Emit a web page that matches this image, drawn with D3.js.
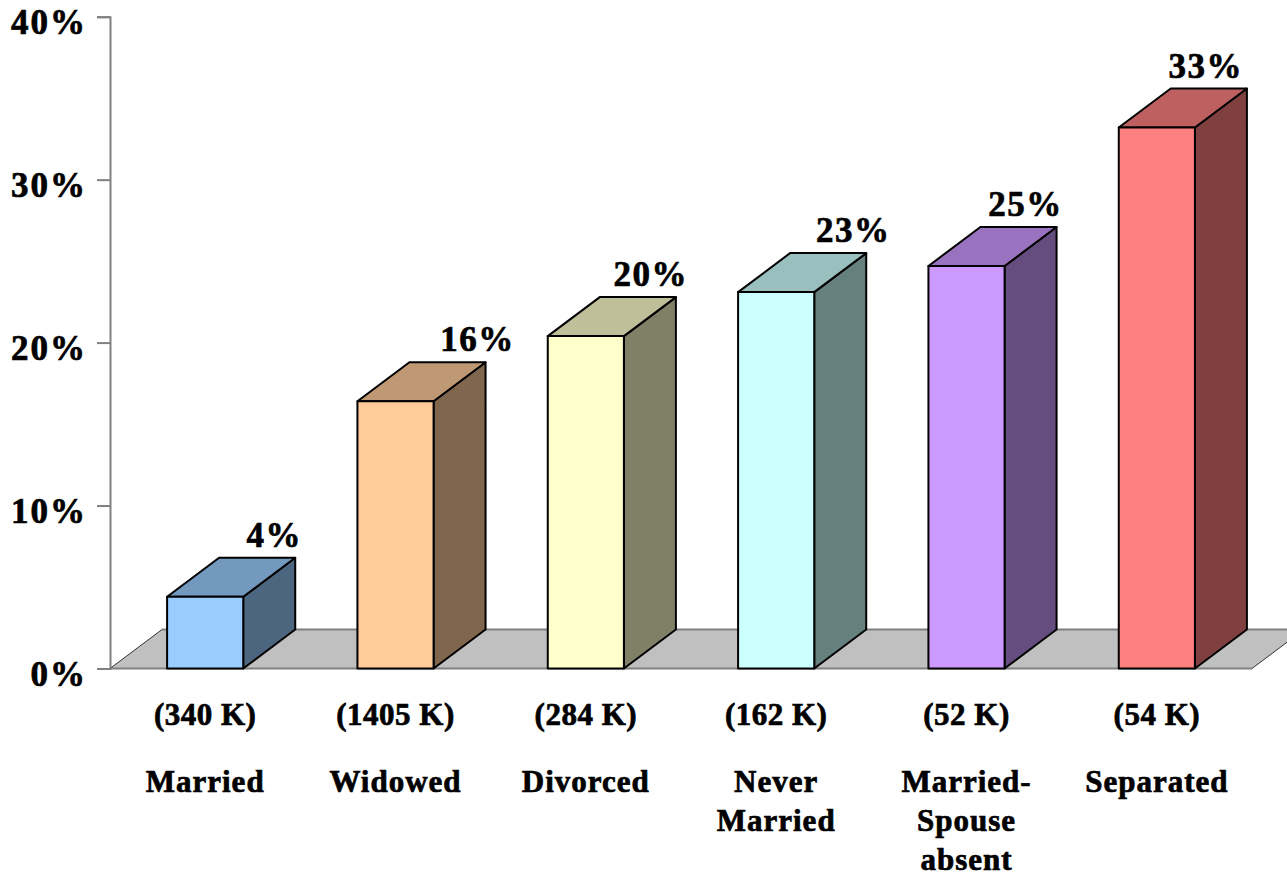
<!DOCTYPE html>
<html>
<head>
<meta charset="utf-8">
<script src="https://cdn.jsdelivr.net/npm/d3@7"></script>
<style>
  html, body { margin: 0; padding: 0; background: #fff; }
  svg text { font-family: "Liberation Serif", "Times New Roman", serif; font-weight: bold; fill: #000; stroke: #000; stroke-width: 0.7px; }
</style>
</head>
<body>
<svg id="chart" width="1287" height="880"></svg>
<script>
// Share of each marital-status group (percent), with group sizes
const categories = ["Married", "Widowed", "Divorced", "Never Married", "Married-Spouse absent", "Separated"];
const categoryLines = [["Married"], ["Widowed"], ["Divorced"], ["Never", "Married"], ["Married-", "Spouse", "absent"], ["Separated"]];
const groupSizes = ["(340 K)", "(1405 K)", "(284 K)", "(162 K)", "(52 K)", "(54 K)"];
const values = [4.4, 16.4, 20.4, 23.1, 24.7, 33.2];
const yTicks = [0, 10, 20, 30, 40];

// Front face colours; top and side faces are shaded from these
const frontColors = ["#99CCFF", "#FFCC99", "#FFFFCC", "#CCFFFF", "#CC99FF", "#FF8080"];

// ---- layout ----
const svg = d3.select("#chart");
const W = 1287;
const x0 = 110, x1 = 1252;
const depthX = 52, depthY = -39;
const valueLabelShift = [17, 30, 13, 25, 7, -3];

const x = d3.scaleBand().domain(categories).range([x0, x1]).padding(0);
const y = d3.scaleLinear().domain([0, 40]).range([668.5, 16.7]);
const barW = x.bandwidth() * 0.4;
const base = y(0);

const shade = (c, k) => {
  const r = d3.rgb(c);
  return d3.rgb(r.r * k, r.g * k, r.b * k).formatHex();
};

// floor
const floorPts = [[x0, base], [x1, base], [x1 + depthX, base + depthY], [x0 + depthX, base + depthY]];
svg.append("polygon")
  .attr("points", floorPts.map(p => p.join(",")).join(" "))
  .attr("fill", "#C0C0C0");
svg.append("line").attr("x1", x0).attr("x2", x1).attr("y1", base).attr("y2", base)
  .attr("stroke", "#808080").attr("stroke-width", 2);
svg.append("line").attr("x1", x0 + depthX).attr("x2", W + 20).attr("y1", base + depthY).attr("y2", base + depthY)
  .attr("stroke", "#808080").attr("stroke-width", 2);
svg.append("line").attr("x1", x0).attr("y1", base).attr("x2", x0 + depthX).attr("y2", base + depthY)
  .attr("stroke", "#333").attr("stroke-width", 1);
svg.append("line").attr("x1", x1).attr("y1", base).attr("x2", x1 + depthX).attr("y2", base + depthY)
  .attr("stroke", "#333").attr("stroke-width", 1);

// y axis
const axis = d3.axisLeft(y).tickValues(yTicks).tickSize(13).tickPadding(10).tickFormat(d => d + "%");
const gAxis = svg.append("g").attr("transform", `translate(${x0},0)`).call(axis);
gAxis.select(".domain").attr("stroke", "#808080").attr("stroke-width", 2);
gAxis.selectAll(".tick line").attr("stroke", "#808080").attr("stroke-width", 2);
gAxis.selectAll(".tick text")
  .attr("font-family", "Liberation Serif, Times New Roman, serif")
  .attr("font-weight", "bold")
  .attr("font-size", 35)
  .attr("letter-spacing", 2)
  .attr("fill", "#000")
  .attr("dy", "0.48em");

// bars
const bars = svg.append("g").selectAll("g").data(values).join("g");
bars.each(function (v, i) {
  const g = d3.select(this);
  const bx = x(categories[i]) + (x.bandwidth() - barW) / 2;
  const top = y(v);
  const stroke = { stroke: "#000", "stroke-width": 2, "stroke-linejoin": "round" };
  const poly = pts => g.append("polygon").attr("points", pts.map(p => p.join(",")).join(" "));
  const side = poly([[bx + barW, top], [bx + barW + depthX, top + depthY], [bx + barW + depthX, base + depthY], [bx + barW, base]])
    .attr("fill", shade(frontColors[i], 0.5));
  const lid = poly([[bx, top], [bx + barW, top], [bx + barW + depthX, top + depthY], [bx + depthX, top + depthY]])
    .attr("fill", shade(frontColors[i], 0.75));
  const front = g.append("rect").attr("x", bx).attr("y", top).attr("width", barW).attr("height", base - top)
    .attr("fill", frontColors[i]);
  [side, lid, front].forEach(s => Object.entries(stroke).forEach(([k, val]) => s.attr(k, val)));

  g.append("text")
    .attr("x", bx + barW / 2 + depthX + valueLabelShift[i])
    .attr("y", top + depthY - 11)
    .attr("text-anchor", "middle")
    .attr("font-size", 35)
    .attr("letter-spacing", 1.5)
    .text(d3.format(".0f")(v) + "%");
});

// category labels
const labels = svg.append("g").selectAll("g").data(categories).join("g")
  .attr("transform", d => `translate(${x(d) + x.bandwidth() / 2},0)`);
labels.append("text")
  .attr("y", 725)
  .attr("text-anchor", "middle")
  .attr("font-size", 31)
  .attr("letter-spacing", 0.5)
  .text((d, i) => groupSizes[i]);
labels.each(function (d, i) {
  const t = d3.select(this).append("text")
    .attr("text-anchor", "middle")
    .attr("font-size", 31)
    .attr("letter-spacing", 1);
  categoryLines[i].forEach((line, j) => {
    t.append("tspan").attr("x", 0).attr("y", 792 + j * 39).text(line);
  });
});
</script>
</body>
</html>
